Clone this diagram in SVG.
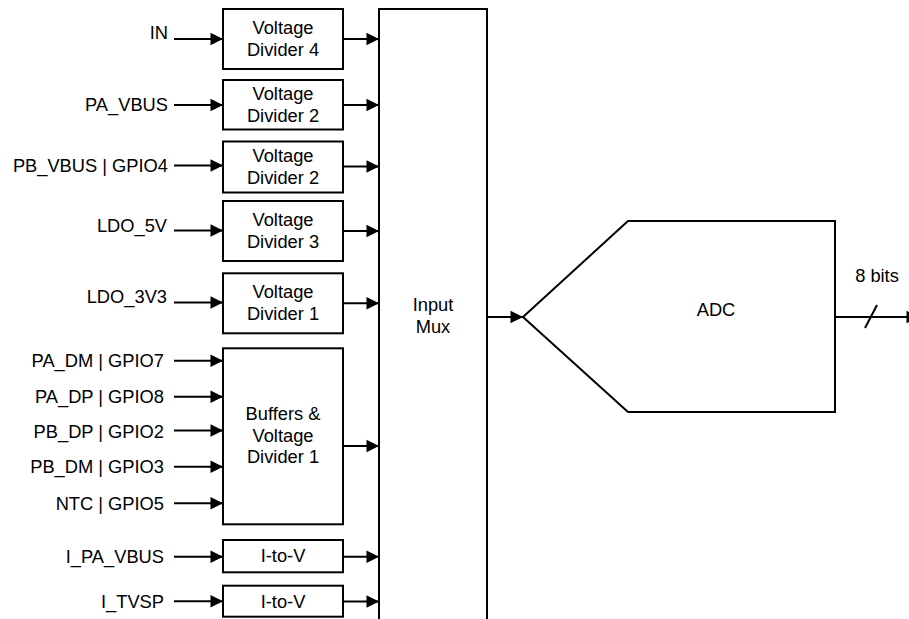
<svg xmlns="http://www.w3.org/2000/svg" width="909" height="619" viewBox="0 0 909 619">
<defs>
<style>
.box{fill:#fff;stroke:#000;stroke-width:2}
.ln{fill:none;stroke:#000;stroke-width:2}
text{font-family:"Liberation Sans",Arial,sans-serif;font-size:18.3px;fill:#000}
.c{text-anchor:middle}
.r{text-anchor:end}
</style>
<marker id="ah" markerUnits="userSpaceOnUse" markerWidth="13" markerHeight="13" refX="12.5" refY="6.25" orient="auto" overflow="visible">
<path d="M0,0 L12.5,6.25 L0,12.5 z" fill="#000"/>
</marker>
</defs>
<rect width="909" height="619" fill="#fff"/>

<g id="mux">
<rect class="box" x="379" y="9" width="108" height="640"/>
<text class="c" x="433" y="311">Input</text>
<text class="c" x="433" y="332.5">Mux</text>
</g>

<g id="vd4">
<rect class="box" x="223" y="9" width="120" height="60"/>
<text class="c" x="283" y="34.3">Voltage</text>
<text class="c" x="283" y="55.7">Divider 4</text>
</g>
<g id="vd2a">
<rect class="box" x="223" y="80" width="120" height="49.5"/>
<text class="c" x="283" y="100">Voltage</text>
<text class="c" x="283" y="121.5">Divider 2</text>
</g>
<g id="vd2b">
<rect class="box" x="223" y="141.5" width="120" height="51"/>
<text class="c" x="283" y="162">Voltage</text>
<text class="c" x="283" y="183.5">Divider 2</text>
</g>
<g id="vd3">
<rect class="box" x="223" y="201" width="120" height="60"/>
<text class="c" x="283" y="226">Voltage</text>
<text class="c" x="283" y="248">Divider 3</text>
</g>
<g id="vd1">
<rect class="box" x="223" y="273.3" width="120" height="60"/>
<text class="c" x="283" y="297.7">Voltage</text>
<text class="c" x="283" y="319.5">Divider 1</text>
</g>
<g id="buf">
<rect class="box" x="223" y="348.3" width="120" height="176"/>
<text class="c" x="283" y="420">Buffers &amp;</text>
<text class="c" x="283" y="441.5">Voltage</text>
<text class="c" x="283" y="463">Divider 1</text>
</g>
<g id="itov1">
<rect class="box" x="223" y="540" width="120" height="32.3"/>
<text class="c" x="283" y="561.7">I-to-V</text>
</g>
<g id="itov2">
<rect class="box" x="223" y="585.7" width="120" height="31"/>
<text class="c" x="283" y="607.5">I-to-V</text>
</g>

<g id="adc">
<path class="box" d="M523,317 L628,221 L835,221 L835,412 L628,412 Z"/>
<text class="c" x="716" y="315.7">ADC</text>
</g>

<g id="labels">
<text class="r" x="168" y="39">IN</text>
<text class="r" x="168" y="110.7">PA_VBUS</text>
<text class="r" x="168" y="171.5">PB_VBUS | GPIO4</text>
<text class="r" x="167" y="231.5">LDO_5V</text>
<text class="r" x="167" y="303.3">LDO_3V3</text>
<text class="r" x="164" y="366.7">PA_DM | GPIO7</text>
<text class="r" x="164" y="402.7">PA_DP | GPIO8</text>
<text class="r" x="164" y="437.5">PB_DP | GPIO2</text>
<text class="r" x="164" y="473.3">PB_DM | GPIO3</text>
<text class="r" x="164" y="510">NTC | GPIO5</text>
<text class="r" x="164" y="562.7">I_PA_VBUS</text>
<text class="r" x="164" y="608">I_TVSP</text>
<text class="c" x="877" y="281.7">8 bits</text>
</g>

<g id="connectors">
<line class="ln" x1="174" y1="39" x2="223" y2="39" marker-end="url(#ah)"/>
<line class="ln" x1="174" y1="105" x2="223" y2="105" marker-end="url(#ah)"/>
<line class="ln" x1="174" y1="165.5" x2="223" y2="165.5" marker-end="url(#ah)"/>
<line class="ln" x1="174" y1="230.5" x2="223" y2="230.5" marker-end="url(#ah)"/>
<line class="ln" x1="174" y1="302.5" x2="223" y2="302.5" marker-end="url(#ah)"/>
<line class="ln" x1="174" y1="360.7" x2="223" y2="360.7" marker-end="url(#ah)"/>
<line class="ln" x1="174" y1="396.7" x2="223" y2="396.7" marker-end="url(#ah)"/>
<line class="ln" x1="174" y1="430.5" x2="223" y2="430.5" marker-end="url(#ah)"/>
<line class="ln" x1="174" y1="466.7" x2="223" y2="466.7" marker-end="url(#ah)"/>
<line class="ln" x1="174" y1="503.3" x2="223" y2="503.3" marker-end="url(#ah)"/>
<line class="ln" x1="174" y1="556.7" x2="223" y2="556.7" marker-end="url(#ah)"/>
<line class="ln" x1="174" y1="601.3" x2="223" y2="601.3" marker-end="url(#ah)"/>

<line class="ln" x1="343" y1="39" x2="379" y2="39" marker-end="url(#ah)"/>
<line class="ln" x1="343" y1="105" x2="379" y2="105" marker-end="url(#ah)"/>
<line class="ln" x1="343" y1="166.5" x2="379" y2="166.5" marker-end="url(#ah)"/>
<line class="ln" x1="343" y1="231" x2="379" y2="231" marker-end="url(#ah)"/>
<line class="ln" x1="343" y1="303.3" x2="379" y2="303.3" marker-end="url(#ah)"/>
<line class="ln" x1="343" y1="446" x2="379" y2="446" marker-end="url(#ah)"/>
<line class="ln" x1="343" y1="556.7" x2="379" y2="556.7" marker-end="url(#ah)"/>
<line class="ln" x1="343" y1="601.5" x2="379" y2="601.5" marker-end="url(#ah)"/>

<line class="ln" x1="487" y1="317" x2="523" y2="317" marker-end="url(#ah)"/>
<line class="ln" x1="835" y1="317" x2="919" y2="317" marker-end="url(#ah)"/>
<line class="ln" x1="865" y1="328" x2="877" y2="305"/>
</g>
</svg>
